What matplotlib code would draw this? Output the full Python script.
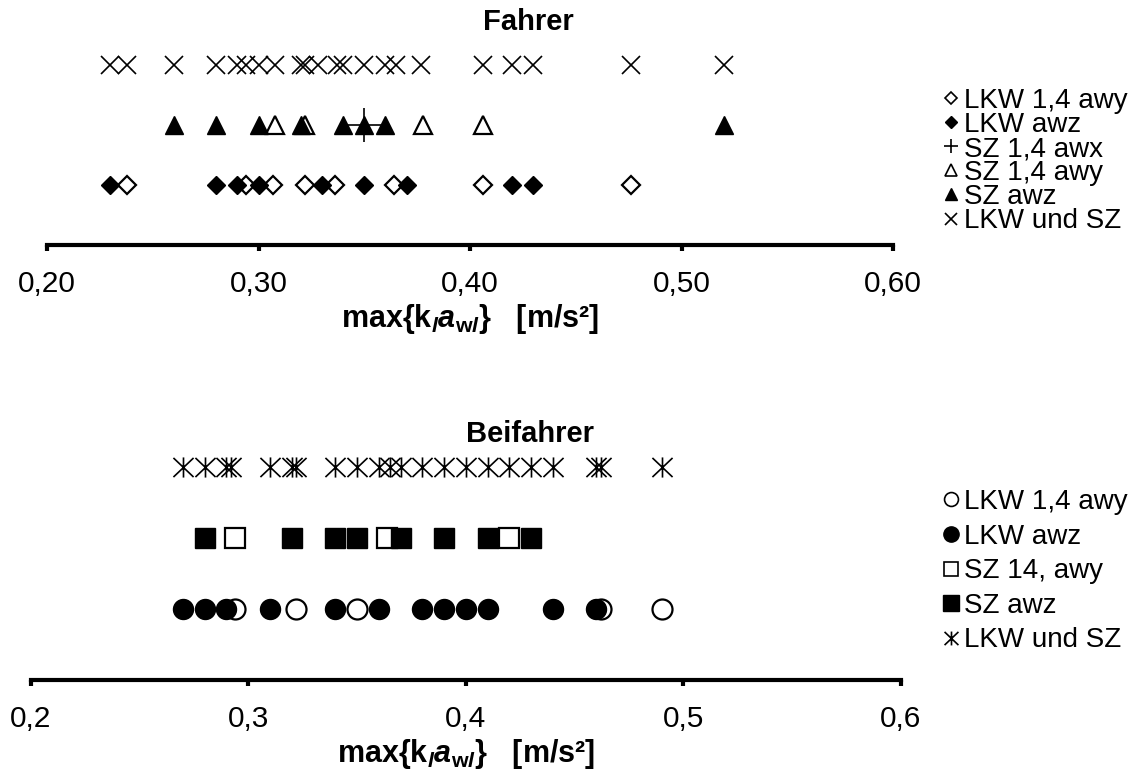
import matplotlib
matplotlib.use('Agg')
from matplotlib import pyplot as plt
from matplotlib.lines import Line2D
from matplotlib.path import Path

plt.rcParams['font.family'] = ['Liberation Sans', 'DejaVu Sans']
plt.rcParams['mathtext.fontset'] = 'custom'
plt.rcParams['mathtext.rm'] = 'Liberation Sans'
plt.rcParams['mathtext.it'] = 'Liberation Sans:italic'
plt.rcParams['mathtext.bf'] = 'Liberation Sans:bold'
plt.rcParams['mathtext.bfit'] = 'Liberation Sans:bold:italic'

# Fahrer (driver) values, m/s^2
lkw_14awy_f = [0.238, 0.294, 0.307, 0.322, 0.336, 0.364, 0.406, 0.476]
lkw_awz_f = [0.230, 0.280, 0.290, 0.300, 0.330, 0.350, 0.370, 0.420, 0.430]
sz_14awx_f = [0.350]
sz_14awy_f = [0.308, 0.322, 0.378, 0.406]
sz_awz_f = [0.260, 0.280, 0.300, 0.320, 0.340, 0.350, 0.360, 0.520]
lkw_sz_f = [0.230, 0.238, 0.260, 0.280, 0.290, 0.294, 0.300, 0.308, 0.320, 0.322,
            0.328, 0.337, 0.340, 0.350, 0.360, 0.365, 0.377, 0.406, 0.420, 0.430,
            0.476, 0.520]

# Beifahrer (passenger) values
lkw_14awy_b = [0.294, 0.322, 0.350, 0.462, 0.490]
lkw_awz_b = [0.270, 0.280, 0.290, 0.310, 0.340, 0.360, 0.380, 0.390, 0.400, 0.410,
             0.440, 0.460]
sz_14awy_b = [0.294, 0.364, 0.420]
sz_awz_b = [0.280, 0.320, 0.340, 0.350, 0.370, 0.390, 0.410, 0.430]
lkw_sz_b = [0.270, 0.280, 0.290, 0.292, 0.310, 0.320, 0.322, 0.340, 0.350, 0.360,
            0.365, 0.370, 0.380, 0.390, 0.400, 0.410, 0.420, 0.430, 0.440, 0.460,
            0.462, 0.490]

ticks_f = [0.2, 0.3, 0.4, 0.5, 0.6]
ticks_b = [0.2, 0.3, 0.4, 0.5, 0.6]

# asterisk: vertical bar + X
star = Path([(0, -1), (0, 1), (-1, -0.95), (1, 0.95), (-1, 0.95), (1, -0.95)],
            [Path.MOVETO, Path.LINETO] * 3)

xlabel = r'max{k$_{\mathbfit{l}}$$\mathbfit{a}$$_{\mathbf{w}\mathbfit{l}}$}   [m/s²]'


def style_axis(ax, ticks, fmt):
    for s in ['left', 'right', 'top']:
        ax.spines[s].set_visible(False)
    ax.spines['bottom'].set_linewidth(3)
    ax.set_yticks([])
    ax.set_ylim(0, 3.5)
    ax.set_xlim(ticks[0], ticks[-1])
    ax.set_xticks(ticks)
    ax.set_xticklabels([fmt.format(t).replace('.', ',') for t in ticks])
    ax.tick_params(axis='x', direction='out', length=4, width=3, pad=14, labelsize=21.5)
    ax.set_xlabel(xlabel, fontsize=22, fontweight='bold', labelpad=3)
    ax.patch.set_alpha(0)


fig = plt.figure(figsize=(11.34, 7.78), dpi=100)

# top panel
ax1 = fig.add_axes([47 / 1134, 1 - 245 / 778, 846 / 1134, 210 / 778])
ax1.plot(lkw_sz_f, [3] * len(lkw_sz_f), ls='none', marker='x', ms=13.5, mew=1.2, color='black')
ax1.plot(sz_14awy_f, [2] * len(sz_14awy_f), ls='none', marker='^', ms=13, mew=1.6,
         mfc='white', mec='black')
ax1.plot(sz_awz_f, [2] * len(sz_awz_f), ls='none', marker='^', ms=13, color='black')
ax1.plot(sz_14awx_f, [2] * len(sz_14awx_f), ls='none', marker='+', ms=24, mew=1.2, color='black')
ax1.plot(lkw_14awy_f, [1] * len(lkw_14awy_f), ls='none', marker='D', ms=9.5, mew=1.6,
         mfc='white', mec='black')
ax1.plot(lkw_awz_f, [1] * len(lkw_awz_f), ls='none', marker='D', ms=9.5, color='black')
style_axis(ax1, ticks_f, '{:.2f}')
fig.text(528 / 1134, 1 - 22 / 778, 'Fahrer', ha='center', va='center',
         fontsize=21, fontweight='bold')

h1 = [Line2D([], [], ls='none', marker='D', ms=6, mew=1.2, mfc='white', mec='black'),
      Line2D([], [], ls='none', marker='D', ms=6, color='black'),
      Line2D([], [], ls='none', marker='+', ms=10, mew=1.2, color='black'),
      Line2D([], [], ls='none', marker='^', ms=9, mew=1.2, mfc='white', mec='black'),
      Line2D([], [], ls='none', marker='^', ms=9, color='black'),
      Line2D([], [], ls='none', marker='x', ms=9, mew=1.2, color='black')]
l1 = ['LKW 1,4 awy', 'LKW awz', 'SZ 1,4 awx', 'SZ 1,4 awy', 'SZ awz', 'LKW und SZ']
fig.legend(h1, l1, loc='upper left', bbox_to_anchor=(943 / 1134, 1 - 88 / 778),
           frameon=False, fontsize=20, handlelength=0.6, handletextpad=0.15,
           labelspacing=-0.07, borderpad=0, borderaxespad=0)

# bottom panel
ax2 = fig.add_axes([30.6 / 1134, 1 - 680 / 778, 870.4 / 1134, 248 / 778])
ax2.plot(lkw_sz_b, [3] * len(lkw_sz_b), ls='none', marker=star, ms=14.5, mew=1.2,
         color='black', mfc='none')
ax2.plot(sz_14awy_b, [2] * len(sz_14awy_b), ls='none', marker='s', ms=14.4, mew=1.6,
         mfc='white', mec='black')
ax2.plot(sz_awz_b, [2] * len(sz_awz_b), ls='none', marker='s', ms=14.4, color='black')
ax2.plot(lkw_14awy_b, [1] * len(lkw_14awy_b), ls='none', marker='o', ms=14.4, mew=1.6,
         mfc='white', mec='black')
ax2.plot(lkw_awz_b, [1] * len(lkw_awz_b), ls='none', marker='o', ms=14.4, color='black')
style_axis(ax2, ticks_b, '{:.1f}')
fig.text(530 / 1134, 1 - 434 / 778, 'Beifahrer', ha='center', va='center',
         fontsize=21, fontweight='bold')

h2 = [Line2D([], [], ls='none', marker='o', ms=10, mew=1.2, mfc='white', mec='black'),
      Line2D([], [], ls='none', marker='o', ms=11, color='black'),
      Line2D([], [], ls='none', marker='s', ms=10, mew=1.2, mfc='white', mec='black'),
      Line2D([], [], ls='none', marker='s', ms=11, color='black'),
      Line2D([], [], ls='none', marker=star, ms=10, mew=1.2, color='black', mfc='none')]
l2 = ['LKW 1,4 awy', 'LKW awz', 'SZ 14, awy', 'SZ awz', 'LKW und SZ']
fig.legend(h2, l2, loc='upper left', bbox_to_anchor=(943 / 1134, 1 - 489 / 778),
           frameon=False, fontsize=20, handlelength=0.6, handletextpad=0.15,
           labelspacing=0.31, borderpad=0, borderaxespad=0)

fig.savefig('out.png', dpi=100)
